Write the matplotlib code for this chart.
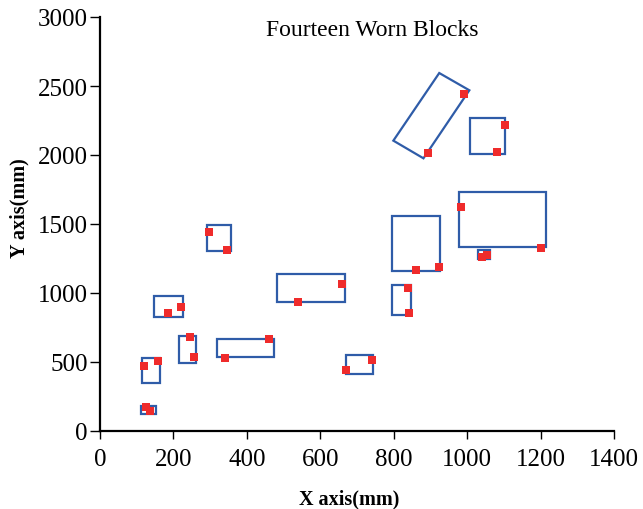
import matplotlib
matplotlib.use("Agg")
import matplotlib.pyplot as plt
from matplotlib.patches import Rectangle, Polygon

# Axis-aligned worn blocks (mm): left, right, bottom, top
rect_left   = [147, 214, 318, 114, 113, 292, 482, 671, 795, 978, 1029, 795, 1008]
rect_right  = [227, 262, 475, 163, 152, 357, 666, 743, 927, 1214, 1063, 848, 1102]
rect_bottom = [828, 490, 534, 346, 123, 1304, 937, 413, 1157, 1333, 1246, 843, 2009]
rect_top    = [980, 688, 667, 527, 179, 1490, 1138, 551, 1560, 1734, 1312, 1056, 2268]

# Tilted worn block (mm): corner coordinates
tilted_x = [924, 1006, 881, 799]
tilted_y = [2594, 2469, 1976, 2104]

# Measured wear points (mm)
wear_x = [186, 221, 244, 256, 341, 460, 121, 157, 124, 136, 296, 345, 539, 660,
          669, 740, 860, 924, 983, 1202, 1041, 1053, 839, 842, 992, 894, 1102, 1082]
wear_y = [853, 896, 679, 538, 529, 667, 469, 509, 172, 147, 1444, 1312, 932, 1067,
          444, 514, 1169, 1191, 1621, 1324, 1259, 1278, 1034, 857, 2444, 2012, 2220, 2022]

x_ticks = [0, 200, 400, 600, 800, 1000, 1200, 1400]
y_ticks = [0, 500, 1000, 1500, 2000, 2500, 3000]

plt.rcParams['font.family'] = ['Liberation Serif', 'DejaVu Serif']

edge_blue = '#2f5ca8'
mark_red = '#ef2b2b'

fig = plt.figure(figsize=(6.43, 5.10), dpi=100)
ax = fig.add_axes([100 / 643, 78 / 510, 514 / 643, 414 / 510])

for l, r, b, t in zip(rect_left, rect_right, rect_bottom, rect_top):
    ax.add_patch(Rectangle((l, b), r - l, t - b, fill=False,
                           edgecolor=edge_blue, linewidth=1.6, zorder=2))
ax.add_patch(Polygon(list(zip(tilted_x, tilted_y)), closed=True, fill=False,
                     edgecolor=edge_blue, linewidth=1.6, zorder=2))

ax.plot(wear_x, wear_y, linestyle='none', marker='s', markersize=5.6,
        color=mark_red, markeredgewidth=0, zorder=3)

ax.set_xlim(0, 1400)
ax.set_ylim(0, 3000)
ax.set_xticks(x_ticks)
ax.set_yticks(y_ticks)
ax.tick_params(axis='x', direction='out', length=5.5, width=1.0, labelsize=18, pad=7)
ax.tick_params(axis='y', direction='out', length=7, width=1.0, labelsize=18, pad=2)

for side in ('top', 'right'):
    ax.spines[side].set_visible(False)
ax.spines['left'].set_linewidth(1.6)
ax.spines['bottom'].set_linewidth(1.6)

ax.set_xlabel('X axis(mm)', fontsize=14.5, fontweight='bold')
ax.set_ylabel('Y axis(mm)', fontsize=14.5, fontweight='bold')
ax.xaxis.set_label_coords(0.485, -0.138)
ax.yaxis.set_label_coords(-0.138, 0.54)

ax.text(0.53, 0.995, 'Fourteen Worn Blocks', transform=ax.transAxes,
        ha='center', va='top', fontsize=17)

fig.savefig('out.png', dpi=100)
